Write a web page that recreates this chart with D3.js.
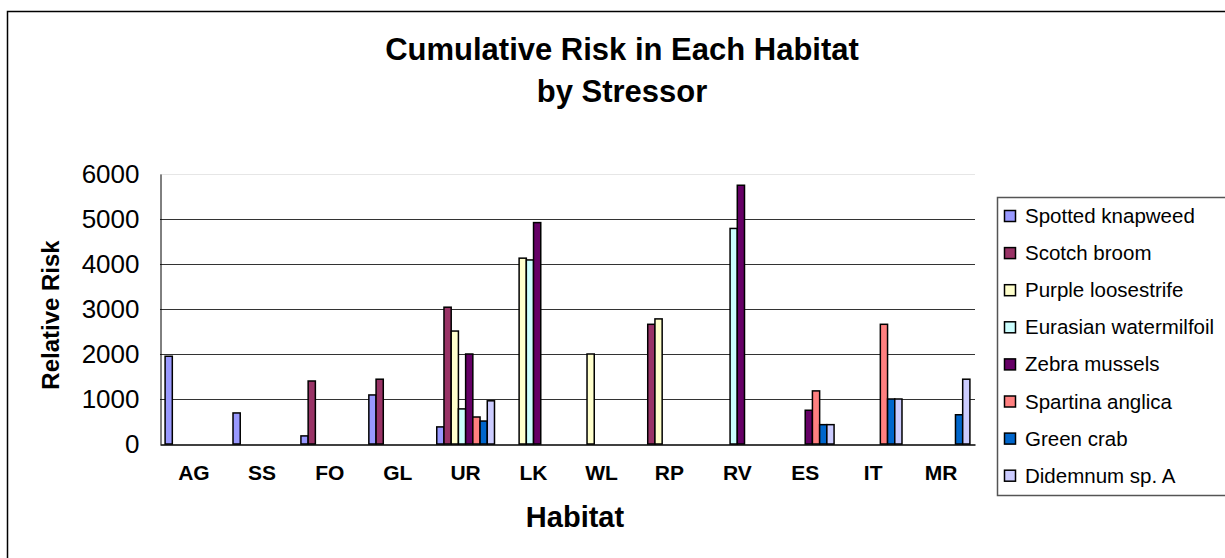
<!DOCTYPE html>
<html>
<head>
<meta charset="utf-8">
<script src="https://cdn.jsdelivr.net/npm/d3@7"></script>
<style>
  body { margin: 0; background: #fff; }
  svg { font-family: 'Liberation Sans', Arial, sans-serif; }
</style>
</head>
<body>
<div id="chartContainer"></div>
<script>
const habitats = ['AG', 'SS', 'FO', 'GL', 'UR', 'LK', 'WL', 'RP', 'RV', 'ES', 'IT', 'MR'];
const stressors = ['Spotted knapweed', 'Scotch broom', 'Purple loosestrife', 'Eurasian watermilfoil',
    'Zebra mussels', 'Spartina anglica', 'Green crab', 'Didemnum sp. A'];
const colors = ['#9999ff', '#993366', '#ffffcc', '#ccffff', '#660066', '#ff8080', '#0066cc', '#ccccff'];
const yTicks = [0, 1000, 2000, 3000, 4000, 5000, 6000];

// one array per stressor, values in habitat order
const spottedKnapweed = [1950, 690, 180, 1090, 380, 0, 0, 0, 0, 0, 0, 0];
const scotchBroom = [0, 0, 1400, 1440, 3040, 0, 0, 2660, 0, 0, 0, 0];
const purpleLoosestrife = [0, 0, 0, 0, 2510, 4130, 2000, 2780, 0, 0, 0, 0];
const eurasianWatermilfoil = [0, 0, 0, 0, 780, 4090, 0, 0, 4790, 0, 0, 0];
const zebraMussels = [0, 0, 0, 0, 2000, 4920, 0, 0, 5750, 750, 0, 0];
const spartinaAnglica = [0, 0, 0, 0, 600, 0, 0, 0, 0, 1180, 2660, 0];
const greenCrab = [0, 0, 0, 0, 510, 0, 0, 0, 0, 430, 1000, 650];
const didemnum = [0, 0, 0, 0, 960, 0, 0, 0, 0, 430, 1000, 1440];

const series = [spottedKnapweed, scotchBroom, purpleLoosestrife, eurasianWatermilfoil,
    zebraMussels, spartinaAnglica, greenCrab, didemnum];

const svgWidth = 1225;
const svgHeight = 558;
const plot = { left: 160, right: 975, top: 174, bottom: 444 };

const svg = d3.select('#chartContainer')
    .append('svg')
    .attr('width', svgWidth)
    .attr('height', svgHeight);

// outer chart border
svg.append('rect')
    .attr('x', 7.5)
    .attr('y', 11.5)
    .attr('width', svgWidth)
    .attr('height', svgHeight)
    .attr('fill', 'none')
    .attr('stroke', '#000')
    .attr('stroke-width', 1.5);

const x0 = d3.scaleBand()
    .domain(habitats)
    .range([plot.left, plot.right])
    .paddingInner(0.15)
    .paddingOuter(0.075);

const x1 = d3.scaleBand()
    .domain(d3.range(stressors.length))
    .range([0, x0.bandwidth()]);

const y = d3.scaleLinear()
    .domain([0, 6000])
    .range([plot.bottom, plot.top]);

// gridlines
svg.append('g')
    .selectAll('line')
    .data(yTicks.filter(d => d > 0))
    .join('line')
    .attr('x1', plot.left)
    .attr('x2', plot.right)
    .attr('y1', d => Math.round(y(d)) + 0.5)
    .attr('y2', d => Math.round(y(d)) + 0.5)
    .attr('stroke', d => d === 6000 ? '#e6e6e6' : '#333')
    .attr('stroke-width', 1);

// y axis
const yAxis = d3.axisLeft(y)
    .tickValues(yTicks)
    .tickFormat(d3.format('d'))
    .tickSize(0)
    .tickPadding(21);

svg.append('g')
    .attr('transform', `translate(${plot.left + 0.5}, 0)`)
    .call(yAxis)
    .call(g => g.select('.domain').attr('stroke', '#000'))
    .call(g => g.selectAll('text')
        .attr('font-size', 26)
        .attr('font-family', "'Liberation Sans', Arial, sans-serif")
        .attr('fill', '#000'));

// bars
const groups = svg.append('g')
    .selectAll('g')
    .data(habitats)
    .join('g')
    .attr('transform', d => `translate(${x0(d)}, 0)`);

groups.selectAll('rect')
    .data((h, i) => series.map((s, k) => ({ k: k, value: s[i] })).filter(d => d.value > 0))
    .join('rect')
    .attr('x', d => x1(d.k))
    .attr('y', d => y(d.value))
    .attr('width', x1.bandwidth())
    .attr('height', d => y(0) - y(d.value))
    .attr('fill', d => colors[d.k])
    .attr('stroke', '#000')
    .attr('stroke-width', 1.5);

// x axis
const xAxis = d3.axisBottom(x0)
    .tickSize(0)
    .tickPadding(21);

svg.append('g')
    .attr('transform', `translate(0, ${plot.bottom + 0.5})`)
    .call(xAxis)
    .call(g => g.select('.domain').attr('stroke', '#000').attr('stroke-width', 1.5))
    .call(g => g.selectAll('text')
        .attr('font-size', 21)
        .attr('font-weight', 'bold')
        .attr('font-family', "'Liberation Sans', Arial, sans-serif")
        .attr('fill', '#000'));

// titles
svg.append('text')
    .attr('x', 622)
    .attr('y', 60)
    .attr('text-anchor', 'middle')
    .attr('font-size', 31)
    .attr('font-weight', 'bold')
    .text('Cumulative Risk in Each Habitat');

svg.append('text')
    .attr('x', 622)
    .attr('y', 102)
    .attr('text-anchor', 'middle')
    .attr('font-size', 31)
    .attr('font-weight', 'bold')
    .text('by Stressor');

svg.append('text')
    .attr('x', 575)
    .attr('y', 527)
    .attr('text-anchor', 'middle')
    .attr('font-size', 29)
    .attr('font-weight', 'bold')
    .text('Habitat');

svg.append('text')
    .attr('transform', `translate(59, 315) rotate(-90)`)
    .attr('text-anchor', 'middle')
    .attr('font-size', 24)
    .attr('font-weight', 'bold')
    .text('Relative Risk');

// legend
const legend = svg.append('g');

legend.append('rect')
    .attr('x', 997.5)
    .attr('y', 197.5)
    .attr('width', 240)
    .attr('height', 298)
    .attr('fill', '#fff')
    .attr('stroke', '#555')
    .attr('stroke-width', 1.5);

const items = legend.selectAll('g.item')
    .data(stressors)
    .join('g')
    .attr('class', 'item')
    .attr('transform', (d, i) => `translate(1004, ${216 + i * 37.1})`);

items.append('rect')
    .attr('x', 0.5)
    .attr('y', -5.5)
    .attr('width', 11)
    .attr('height', 11)
    .attr('fill', (d, i) => colors[i])
    .attr('stroke', '#000')
    .attr('stroke-width', 1.5);

items.append('text')
    .attr('x', 21)
    .attr('y', 7)
    .attr('font-size', 20.5)
    .text(d => d);
</script>
</body>
</html>
